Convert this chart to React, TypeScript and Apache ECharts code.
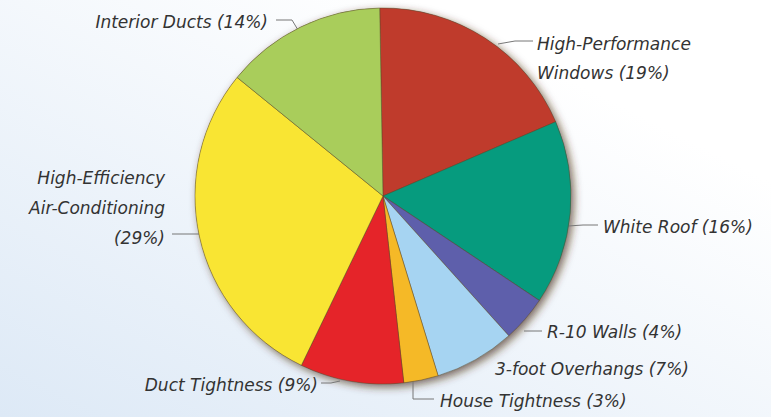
import React, { useEffect, useRef } from "react";
import * as echarts from "echarts";

const categories = [
  "High-Performance Windows",
  "White Roof",
  "R-10 Walls",
  "3-foot Overhangs",
  "House Tightness",
  "Duct Tightness",
  "High-Efficiency Air-Conditioning",
  "Interior Ducts",
];
const values = [19, 16, 4, 7, 3, 9, 29, 14];
const colors = ["#bf3b2c", "#069b7e", "#5e5fab", "#a6d4f2", "#f5b927", "#e52429", "#f9e533", "#a9cd5b"];
const labelTexts = [
  "High-Performance\nWindows (19%)",
  "White Roof (16%)",
  "R-10 Walls (4%)",
  "3-foot Overhangs (7%)",
  "House Tightness (3%)",
  "Duct Tightness (9%)",
  "High-Efficiency\nAir-Conditioning\n(29%)",
  "Interior Ducts (14%)",
];

// label placement: [x, y, align, lineHeight]
const labelPos: [number, number, string, number][] = [
  [537, 58, "left", 29],
  [603, 227, "left", 20],
  [547, 332, "left", 20],
  [495, 369, "left", 20],
  [440, 401, "left", 20],
  [318, 385, "right", 20],
  [165, 208, "right", 30],
  [268, 22, "right", 20],
];
const linePts: (number[][] | null)[] = [
  [[498, 44], [515, 41], [533, 41]],
  [[568, 226], [583, 225], [598, 225]],
  [[524, 331], [533, 331], [542, 331]],
  null,
  [[413, 381], [413, 399], [434, 399]],
  [[340, 381], [331, 383], [321, 383]],
  [[199, 234], [186, 234], [172, 234]],
  [[298, 30], [292, 20], [276, 20]],
];

export default function App() {
  const ref = useRef<HTMLDivElement>(null);
  useEffect(() => {
    document.body.style.margin = "0";
    const chart = echarts.init(ref.current!, null, { renderer: "svg" });
    const total = values.reduce((a, b) => a + b, 0);
    chart.setOption({
      animation: false,
      graphic: [
        {
          type: "rect",
          z: -10,
          silent: true,
          shape: { x: 0, y: 0, width: 771, height: 417 },
          style: {
            fill: {
              type: "linear",
              x: 0,
              y: 1,
              x2: 0.75,
              y2: 0.2,
              colorStops: [
                { offset: 0, color: "#dde9f6" },
                { offset: 1, color: "#ffffff" },
              ],
            },
          },
        },
      ],
      series: [
        {
          type: "pie",
          silent: true,
          z: 1,
          center: [383, 196],
          radius: 188,
          data: [{ value: total, name: "shadow" }],
          label: { show: false },
          labelLine: { show: false },
          itemStyle: {
            color: "#7a6a5a",
            shadowColor: "rgba(70,40,20,0.7)",
            shadowBlur: 8,
            shadowOffsetX: 3,
            shadowOffsetY: 3,
          },
        },
        {
          type: "pie",
          z: 2,
          center: [383, 196],
          radius: 188,
          startAngle: 91,
          clockwise: true,
          avoidLabelOverlap: false,
          data: categories.map((name, i) => ({
            name,
            value: values[i],
            itemStyle: { color: colors[i] },
            labelLine: { show: linePts[i] !== null },
            label: { lineHeight: labelPos[i][3] },
          })),
          itemStyle: { borderColor: "rgba(90,70,40,0.45)", borderWidth: 1 },
          label: {
            show: true,
            position: "outside",
            formatter: (p: any) => labelTexts[p.dataIndex],
            fontFamily: "DejaVu Sans",
            fontStyle: "italic",
            fontSize: 17,
            color: "#333",
          },
          labelLine: { show: true, lineStyle: { color: "#777", width: 1 } },
          labelLayout: (p: any) => {
            const i = p.dataIndex;
            const pos = labelPos[i];
            const out: any = {
              x: pos[0],
              y: pos[1],
              align: pos[2],
              verticalAlign: "middle",
            };
            if (linePts[i]) out.labelLinePoints = linePts[i];
            return out;
          },
        },
      ],
    });
    return () => chart.dispose();
  }, []);
  return <div ref={ref} style={{ width: 771, height: 417 }} />;
}
